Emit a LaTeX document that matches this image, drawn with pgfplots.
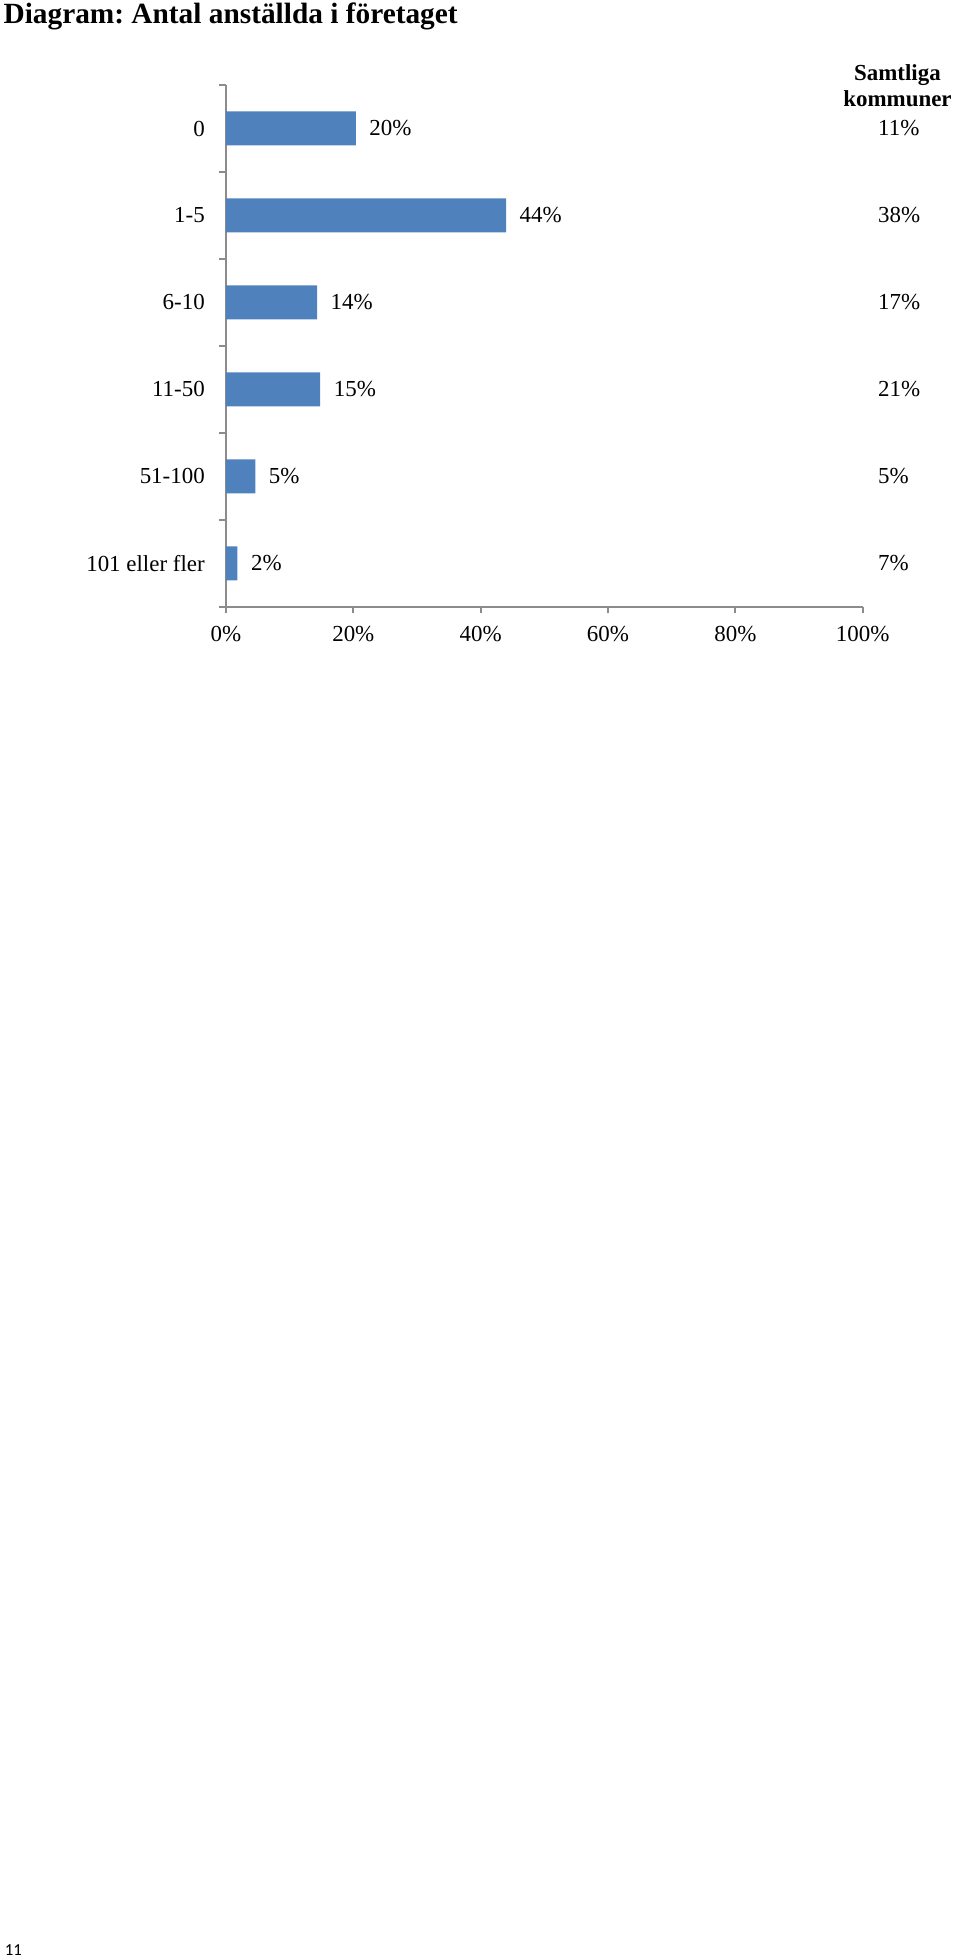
\documentclass[border=0pt]{standalone}
\usepackage{fontspec}
\setmainfont{Liberation Serif}
\newfontfamily\pagefont{Carlito}
\usepackage{pgfplots}
\pgfplotsset{compat=1.18}
\usepackage{pgfplotstable}
\frenchspacing

\definecolor{barblue}{HTML}{4F81BD}
\definecolor{axisgray}{HTML}{8C8C8C}

% pos = category row (0 at top), value = bar length in %, label = printed value
% other = value for "Samtliga kommuner", col = x position of that column
\pgfplotstableread{
pos value label other col
0   20.4  20    11    102.4
1   44.0  44    38    102.4
2   14.3  14    17    102.4
3   14.8  15    21    102.4
4   4.6   5     5     102.4
5   1.8   2     7     102.4
}\firms

\begin{document}
\begin{tikzpicture}
\useasboundingbox (0,0) rectangle (720pt,-1467.75pt);

\node[anchor=base west, inner sep=0pt, font=\fontsize{22}{26}\selectfont\bfseries]
  at (2.5pt,-17.5pt) {Diagram: Antal anställda i företaget};

\begin{axis}[
    at={(169.5pt,-63.75pt)}, anchor=north west,
    scale only axis,
    width=477.5pt, height=391.3pt,
    clip=false,
    xmin=0, xmax=100,
    ymin=-0.5, ymax=5.5,
    y dir=reverse,
    axis x line*=bottom,
    axis y line*=left,
    axis line style={-, axisgray, line width=1.3pt},
    every tick/.style={axisgray, line width=1.3pt},
    tick align=outside,
    major tick length=5pt,
    xtick={0,20,40,60,80,100},
    xticklabels={0\%,20\%,40\%,60\%,80\%,100\%},
    ytick={-0.5,0.5,1.5,2.5,3.5,4.5,5.5},
    yticklabels={},
    extra y ticks={0,1,2,3,4,5},
    extra y tick labels={0,1-5,6-10,11-50,51-100,101 eller fler},
    extra y tick style={major tick length=0pt},
    ticklabel style={font=\fontsize{17.2}{20}\selectfont, inner sep=0pt},
    xticklabel style={anchor=north, yshift=-9.5pt},
    yticklabel style={anchor=east, xshift=-15.75pt},
]
\addplot[xbar, bar width=25.5pt, fill=barblue, draw=none,
    point meta=explicit symbolic,
    nodes near coords={\pgfplotspointmeta\%},
    nodes near coords align={horizontal},
    every node near coord/.append style={font=\fontsize{17.2}{20}\selectfont,
        anchor=west, inner sep=0pt, xshift=10pt}]
    table[x=value, y=pos, meta=label]{\firms};

\addplot[draw=none, mark=none,
    point meta=explicit symbolic,
    nodes near coords={\pgfplotspointmeta\%},
    nodes near coords align={horizontal},
    every node near coord/.append style={font=\fontsize{17.2}{20}\selectfont,
        anchor=west, inner sep=0pt}]
    table[x=col, y=pos, meta=other]{\firms};
\end{axis}

\node[anchor=base, align=center, inner sep=0pt,
  font=\fontsize{17.2}{19.5}\selectfont\bfseries]
  at (673.1pt,-79.5pt) {Samtliga\\kommuner};

\node[anchor=base west, inner sep=0pt, font=\pagefont\fontsize{12.6}{15}\selectfont]
  at (3.5pt,-1466.5pt) {11};
\end{tikzpicture}
\end{document}
